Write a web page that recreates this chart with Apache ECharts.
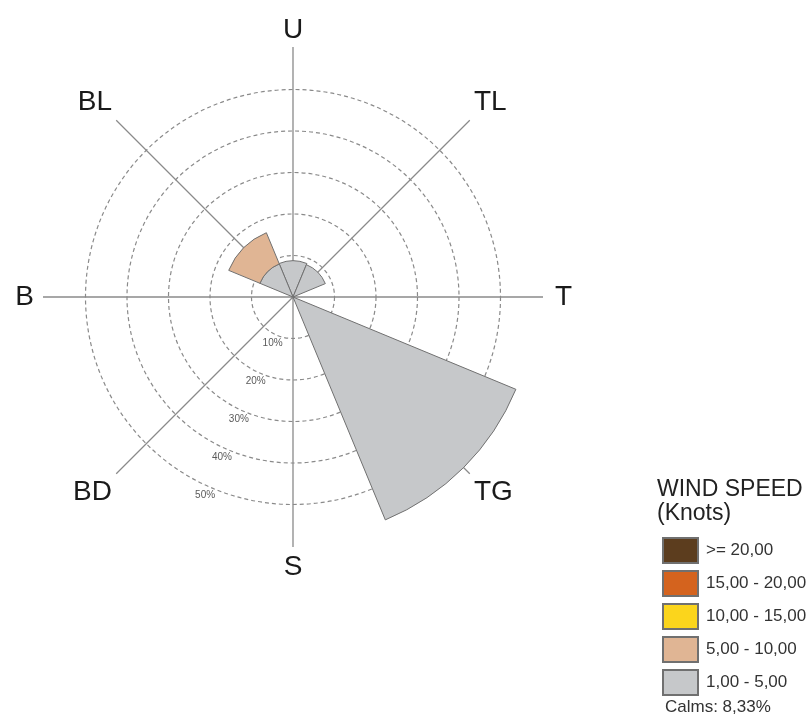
<!DOCTYPE html>
<html>
<head>
<meta charset="utf-8">
<script src="https://cdn.jsdelivr.net/npm/echarts@6/dist/echarts.min.js"></script>
<style>
html, body { margin: 0; padding: 0; background: #fff; }
#main { width: 808px; height: 722px; }
</style>
</head>
<body>
<div id="main"></div>
<script>
// directions clockwise from north
const directions = ['U', 'TL', 'T', 'TG', 'S', 'BD', 'B', 'BL'];
const speedBins = ['1,00 - 5,00', '5,00 - 10,00', '10,00 - 15,00', '15,00 - 20,00', '>= 20,00'];
// frequency (%) per direction for each wind speed class
const speed1to5 = [8.7, 8.4, 0, 57.9, 0, 0, 0, 8.6];
const speed5to10 = [0, 0, 0, 0, 0, 0, 0, 8.1];
const speed10to15 = [0, 0, 0, 0, 0, 0, 0, 0];
const speed15to20 = [0, 0, 0, 0, 0, 0, 0, 0];
const speed20up = [0, 0, 0, 0, 0, 0, 0, 0];
const binColors = ['#c6c8ca', '#e0b594', '#fbd51c', '#d4631e', '#5c3d1e'];
const ringMax = 50;
const ringStep = 10;
const calms = 8.33;

const binValues = [speed1to5, speed5to10, speed10to15, speed15to20, speed20up];
const font = 'Liberation Sans, Arial, sans-serif';
const center = [293, 297];

// small nudges so the compass letters sit where they are in the original
const labelPadding = { U: [0, 0, -3, 0], B: [0, 3, 0, 0], T: [0, 0, 0, 6] };

let chart = echarts.init(document.getElementById('main'));

let option = {
    animation: false,
    title: [
        {
            text: 'WIND SPEED\n(Knots)',
            left: 652,
            top: 473,
            textStyle: { fontSize: 23, fontWeight: 'normal', color: '#222', lineHeight: 24, fontFamily: font }
        },
        {
            text: 'Calms: ' + calms.toFixed(2).replace('.', ',') + '%',
            left: 660,
            top: 694,
            textStyle: { fontSize: 17, fontWeight: 'normal', color: '#333', fontFamily: font }
        }
    ],
    legend: {
        data: speedBins.slice().reverse(),
        orient: 'vertical',
        left: 662,
        top: 537,
        padding: 0,
        itemWidth: 35,
        itemHeight: 25,
        itemGap: 6,
        icon: 'rect',
        selectedMode: false,
        textStyle: { fontSize: 17, color: '#333', fontFamily: font, padding: [0, 0, 0, 3] }
    },
    polar: [
        { center: center, radius: 250 },   // sectors
        { center: center, radius: 250 },   // spokes
        { center: center, radius: 207.5 }  // dashed rings
    ],
    angleAxis: [
        {
            polarIndex: 0,
            type: 'category',
            data: directions.map(function (d) {
                return labelPadding[d] ? { value: d, textStyle: { padding: labelPadding[d] } } : d;
            }),
            startAngle: 112.5,
            boundaryGap: true,
            axisLine: { show: false },
            axisTick: { show: false },
            splitLine: { show: false },
            axisLabel: { margin: 6, fontSize: 28, color: '#1a1a1a', fontFamily: font }
        },
        {
            polarIndex: 1,
            type: 'value',
            min: 0,
            max: 360,
            interval: 45,
            startAngle: 90,
            axisLine: { show: false },
            axisTick: { show: false },
            axisLabel: { show: false },
            splitLine: { show: true, lineStyle: { color: '#8a8a8a', width: 1.3 } }
        },
        {
            polarIndex: 2,
            type: 'value',
            min: 0,
            max: 360,
            startAngle: 246,
            show: false
        }
    ],
    radiusAxis: [
        { polarIndex: 0, min: 0, max: 60, show: false },
        { polarIndex: 1, min: 0, max: 60, show: false },
        {
            polarIndex: 2,
            min: 0,
            max: ringMax,
            interval: ringStep,
            axisLine: { show: false },
            axisTick: { show: false },
            splitLine: { show: true, lineStyle: { type: [4, 3], color: '#8a8a8a', width: 1.2 } },
            axisLabel: {
                margin: 0,
                align: 'center',
                verticalAlign: 'middle',
                fontSize: 10,
                color: '#666',
                fontFamily: font,
                formatter: function (v) { return v > 0 ? '{p|' + v + '%}' : ''; },
                rich: {
                    p: { padding: [17, 7, 0, 0], fontSize: 10, color: '#5a5a5a', fontFamily: font }
                }
            }
        }
    ],
    series: speedBins.map(function (name, i) {
        return {
            name: name,
            type: 'bar',
            coordinateSystem: 'polar',
            polarIndex: 0,
            stack: 'wind',
            barCategoryGap: '0%',
            data: binValues[i].map(function (v) { return v || null; }),
            itemStyle: { color: binColors[i], borderColor: '#707070', borderWidth: 1 }
        };
    })
};

chart.setOption(option);
</script>
</body>
</html>
